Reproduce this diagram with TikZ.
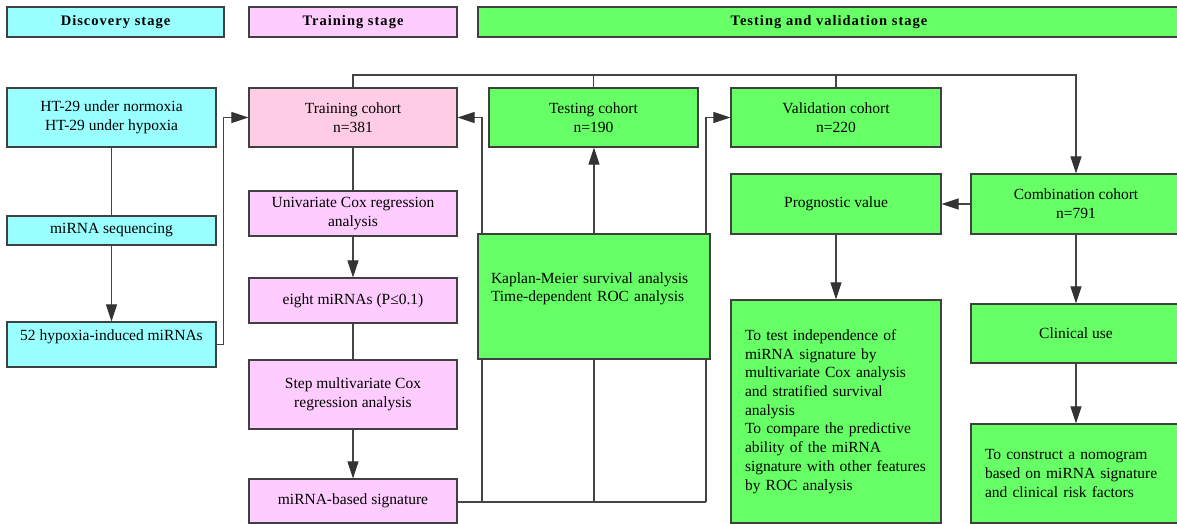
\documentclass[tikz,border=0pt]{standalone}
\usepackage{fontspec}
\setmainfont{Liberation Serif}
\newfontfamily\hdrfont[LetterSpace=7]{Liberation Serif}
\usetikzlibrary{arrows.meta}
\pgfdeclarelayer{bg}
\pgfsetlayers{bg,main}
\definecolor{cyanfill}{HTML}{99FFFF}
\definecolor{pinkfill}{HTML}{FFCCE5}
\definecolor{violetfill}{HTML}{FFCCFF}
\definecolor{greenfill}{HTML}{66FF66}
\definecolor{edgecol}{HTML}{404040}
\definecolor{linecol}{HTML}{444444}
\definecolor{tipcol}{HTML}{333333}
\tikzset{
  box/.style={draw=edgecol, line width=1.2pt, rectangle, inner sep=0pt, align=center,
    font=\fontsize{15.5}{18.7}\selectfont},
  hdr/.style={box, font=\fontsize{14.5}{17}\selectfont\hdrfont\bfseries},
  lbox/.style={box, align=left, inner xsep=14pt},
  cyanbox/.style={box, fill=cyanfill},
  pinkbox/.style={box, fill=pinkfill},
  violetbox/.style={box, fill=violetfill},
  greenbox/.style={box, fill=greenfill},
  conn/.style={draw=linecol, line width=1.1pt},
  arr/.style={conn, -{Triangle[length=17pt,width=11pt,color=tipcol]}}
}
\begin{document}
\begin{tikzpicture}[x=1pt,y=-1pt]
\useasboundingbox (0,0) rectangle (1177,524);
% headers
\node[hdr, fill=cyanfill, minimum width=217pt, minimum height=30pt] (hdisc) at (115.5,22) {Discovery stage};
\node[hdr, fill=violetfill, minimum width=208pt, minimum height=30pt] (htrain) at (353,22) {Training stage};
\node[hdr, fill=greenfill, minimum width=702pt, minimum height=30pt] (htest) at (829,22) {Testing and validation stage};
% discovery
\node[cyanbox, minimum width=209pt, minimum height=59pt] (ht) at (111.5,117.5) {HT-29 under normoxia\\HT-29 under hypoxia};
\node[cyanbox, minimum width=209pt, minimum height=29pt] (seq) at (111.5,230.5) {miRNA sequencing};
\node[cyanbox, minimum width=209pt, minimum height=45pt] (hyp) at (111.5,344.5) {52 hypoxia-induced miRNAs\\\mbox{}};
% training
\node[pinkbox, minimum width=208pt, minimum height=59pt] (tc) at (353,117.5) {Training cohort\\n=381};
\node[violetbox, minimum width=208pt, minimum height=45pt] (uni) at (353,213.5) {Univariate Cox regression\\analysis};
\node[violetbox, minimum width=208pt, minimum height=45pt] (eight) at (353,300.5) {eight miRNAs (P≤0.1)};
\node[violetbox, minimum width=208pt, minimum height=69pt] (step) at (353,394.5) {Step multivariate Cox\\regression analysis};
\node[violetbox, minimum width=208pt, minimum height=44pt] (sig) at (353,501) {miRNA-based signature};
% testing and validation
\node[greenbox, minimum width=209pt, minimum height=59pt] (test) at (593.5,117.5) {Testing cohort\\n=190};
\node[greenbox, lbox, text width=206pt, inner xsep=13pt, minimum width=232pt, minimum height=125pt] (km) at (594,296.5) {Kaplan-Meier survival analysis\\Time-dependent ROC analysis\\\mbox{}};
\node[greenbox, minimum width=210pt, minimum height=59pt] (val) at (836,117.5) {Validation cohort\\n=220};
\node[greenbox, minimum width=210pt, minimum height=60pt] (prog) at (836,204) {Prognostic value};
\node[greenbox, minimum width=210pt, minimum height=60pt] (comb) at (1076,204) {Combination cohort\\n=791};
\node[greenbox, lbox, text width=182pt, minimum width=210pt, minimum height=223pt] (ttest) at (836,411.5) {To test independence of\\miRNA signature by\\multivariate Cox analysis\\and stratified survival\\analysis\\To compare the predictive\\ability of the miRNA\\signature with other features\\by ROC analysis};
\node[greenbox, minimum width=210pt, minimum height=59pt] (clin) at (1076,333.5) {Clinical use};
\node[greenbox, lbox, text width=182pt, minimum width=210pt, minimum height=99pt] (nomo) at (1076,473.5) {To construct a nomogram\\based on miRNA signature\\and clinical risk factors};
% junction coordinates
\coordinate (topy) at (0,75);
\coordinate (j1) at (482,502);
\coordinate (j3) at (706,502);
\begin{pgfonlayer}{bg}
\fill[white] (0,0) rectangle (1177,524);
\draw[conn] (ht.south) -- (seq.north);
\draw[arr] (seq.south) -- (hyp.north);
\draw[arr] (hyp.east) -- ++(7,0) |- (tc.west);
\draw[conn] (tc.south) -- (uni.north);
\draw[arr] (uni.south) -- (eight.north);
\draw[conn] (eight.south) -- (step.north);
\draw[arr] (step.south) -- (sig.north);
\draw[conn] (sig.east |- j1) -- (j3);
\draw[arr] (j1) |- (tc.east);
\draw[arr] (j3) |- (val.west);
\draw[conn] (km.south |- j1) -- (km.south);
\draw[arr] (km.north) -- (km.north |- test.south);
\draw[arr] (tc.north) -- (tc.north |- topy) -| (comb.north);
\draw[conn] (test.north) -- (test.north |- topy);
\draw[conn] (val.north) -- (val.north |- topy);
\draw[arr] (comb.west) -- (prog.east);
\draw[arr] (prog.south) -- (ttest.north);
\draw[arr] (comb.south) -- (clin.north);
\draw[arr] (clin.south) -- (nomo.north);
\end{pgfonlayer}
\end{tikzpicture}
\end{document}
